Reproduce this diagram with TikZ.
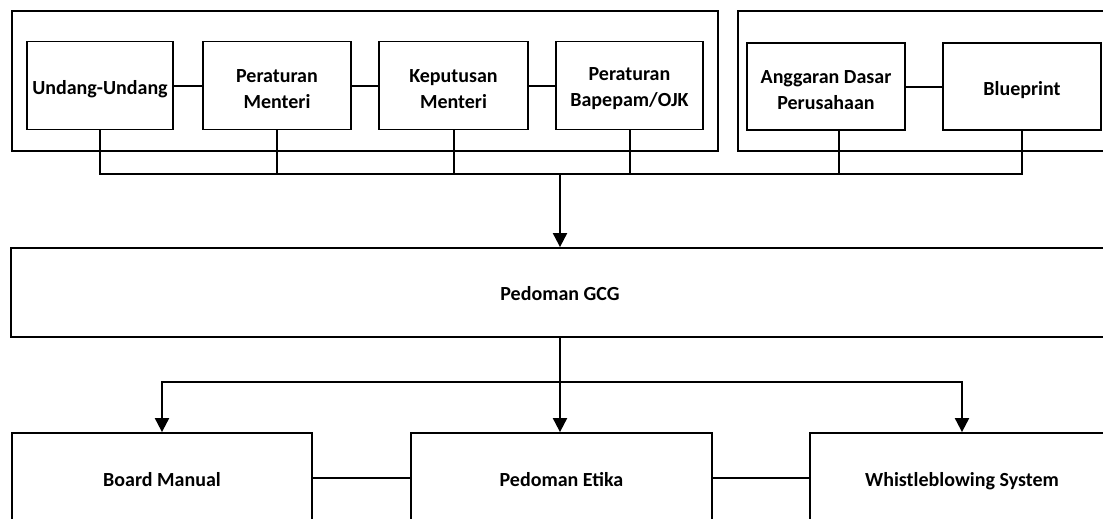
\documentclass[tikz,border=0pt]{standalone}
\usepackage{fontspec}
\setmainfont{Carlito}
\usetikzlibrary{arrows.meta,calc}
\begin{document}
\begin{tikzpicture}[x=1pt,y=-1pt,
  txt/.style={font=\fontsize{20}{26}\selectfont\bfseries,align=center},
  box/.style={draw,line width=1.8pt,rectangle,inner sep=0pt,txt},
  wbox/.style={box,text height=20pt,text depth=4pt},
  tbox/.style={box,minimum height=88pt},
  lab/.style={label={[txt,yshift=-3.5pt]center:#1}},
  grp/.style={draw,line width=1.5pt,rectangle,inner sep=0pt},
  conn/.style={line width=2pt},
  arr/.style={line width=2pt,-{Triangle[width=14pt,length=14pt]}}]
\fill[white] (0,0) rectangle (1103,519);
\useasboundingbox (0,0) rectangle (1103,519);
% group frames
\node[grp,minimum width=706pt,minimum height=140pt] (g1) at (365,81) {};
\node[grp,minimum width=380pt,minimum height=140pt] (g2) at (928,81) {};
% top boxes
\node[tbox,minimum width=146pt,lab={Undang-Undang}] (uu) at (100,85.5) {};
\node[tbox,minimum width=148pt,lab={Peraturan\\Menteri}] (pm) at (277,85.5) {};
\node[tbox,minimum width=149pt,lab={Keputusan\\Menteri}] (km) at (453.5,85.5) {};
\node[tbox,minimum width=147pt,lab={Peraturan\\Bapepam/OJK}] (pb) at (629.5,85.5) {};
\node[tbox,minimum width=158pt,minimum height=87pt,lab={Anggaran Dasar\\Perusahaan}] (ad) at (826,86.5) {};
\node[tbox,minimum width=158pt,minimum height=87pt,lab={Blueprint}] (bp) at (1022,86.5) {};
% horizontal links
\draw[conn] (uu.east) -- (pm.west);
\draw[conn] (pm.east) -- (km.west);
\draw[conn] (km.east) -- (pb.west);
\draw[conn] (ad.east) -- (bp.west);
% middle
\node[wbox,minimum width=1098pt,minimum height=89pt] (gcg) at (560,292.5) {Pedoman GCG};
% bus
\coordinate (bus) at (560,174);
\draw[conn] (uu.south) -- (uu.south |- bus) -- (bp.south |- bus) -- (bp.south);
\foreach \n in {pm,km,pb} \draw[conn] (\n.south) -- (\n.south |- bus);
\draw[conn] ([xshift=13pt]ad.south) -- ([xshift=13pt]ad.south |- bus);
\draw[arr] (bus) -- (bus |- gcg.north);
% bottom boxes
\node[wbox,minimum width=300pt,minimum height=90pt] (bm) at (162,478) {Board Manual};
\node[wbox,minimum width=301pt,minimum height=90pt] (pe) at (561.5,478) {Pedoman Etika};
\node[wbox,minimum width=304pt,minimum height=90pt] (wb) at (962,478) {Whistleblowing System};
\draw[conn] (bm.east) -- (pe.west);
\draw[conn] (pe.east) -- (wb.west);
% split
\coordinate (split) at (560,382);
\draw[conn] (split |- gcg.south) -- (split);
\draw[arr] (split) -| (bm.north);
\draw[arr] (split) -- (split |- pe.north);
\draw[arr] (split) -| (wb.north);
\end{tikzpicture}
\end{document}
